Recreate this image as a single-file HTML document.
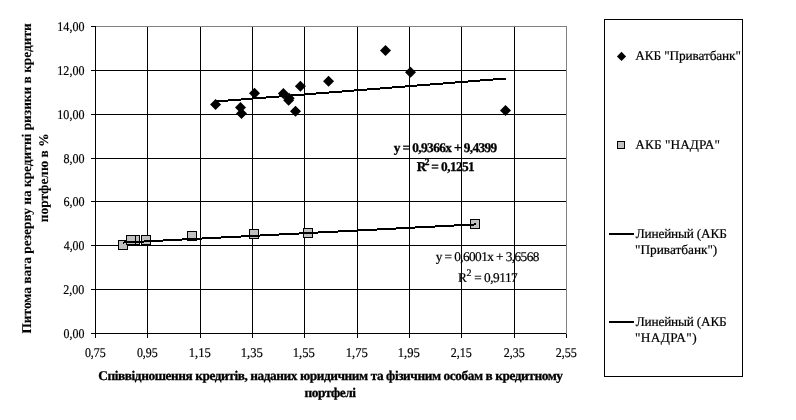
<!DOCTYPE html><html><head><meta charset="utf-8"><style>html,body{margin:0;padding:0;background:#fff;width:796px;height:420px;overflow:hidden}svg{display:block;will-change:transform}text{font-family:"Liberation Serif",serif;fill:#000;text-rendering:geometricPrecision;stroke:#000;stroke-width:0.2px}text[font-weight=bold]{stroke:#000;stroke-width:0.3px}</style></head><body>
<svg width="796" height="420" viewBox="0 0 796 420">
<rect width="796" height="420" fill="#fff"/>
<g stroke="#000" stroke-width="1" shape-rendering="crispEdges">
<line x1="95" y1="70.5" x2="566" y2="70.5"/>
<line x1="95" y1="114.5" x2="566" y2="114.5"/>
<line x1="95" y1="158.5" x2="566" y2="158.5"/>
<line x1="95" y1="201.5" x2="566" y2="201.5"/>
<line x1="95" y1="245.5" x2="566" y2="245.5"/>
<line x1="95" y1="289.5" x2="566" y2="289.5"/>
<line x1="147.5" y1="26" x2="147.5" y2="333"/>
<line x1="200.5" y1="26" x2="200.5" y2="333"/>
<line x1="252.5" y1="26" x2="252.5" y2="333"/>
<line x1="304.5" y1="26" x2="304.5" y2="333"/>
<line x1="357.5" y1="26" x2="357.5" y2="333"/>
<line x1="409.5" y1="26" x2="409.5" y2="333"/>
<line x1="461.5" y1="26" x2="461.5" y2="333"/>
<line x1="514.5" y1="26" x2="514.5" y2="333"/>
</g>
<g stroke="#808080" stroke-width="1" shape-rendering="crispEdges">
<line x1="95" y1="26.5" x2="567" y2="26.5"/>
<line x1="566.5" y1="26" x2="566.5" y2="334"/>
</g>
<g stroke="#000" stroke-width="1" shape-rendering="crispEdges">
<line x1="95.5" y1="26" x2="95.5" y2="334"/>
<line x1="95" y1="333.5" x2="566" y2="333.5"/>
<line x1="91" y1="26.5" x2="96" y2="26.5"/>
<line x1="91" y1="70.5" x2="96" y2="70.5"/>
<line x1="91" y1="114.5" x2="96" y2="114.5"/>
<line x1="91" y1="158.5" x2="96" y2="158.5"/>
<line x1="91" y1="201.5" x2="96" y2="201.5"/>
<line x1="91" y1="245.5" x2="96" y2="245.5"/>
<line x1="91" y1="289.5" x2="96" y2="289.5"/>
<line x1="91" y1="333.5" x2="96" y2="333.5"/>
<line x1="95.5" y1="334" x2="95.5" y2="338"/>
<line x1="147.5" y1="334" x2="147.5" y2="338"/>
<line x1="200.5" y1="334" x2="200.5" y2="338"/>
<line x1="252.5" y1="334" x2="252.5" y2="338"/>
<line x1="304.5" y1="334" x2="304.5" y2="338"/>
<line x1="357.5" y1="334" x2="357.5" y2="338"/>
<line x1="409.5" y1="334" x2="409.5" y2="338"/>
<line x1="461.5" y1="334" x2="461.5" y2="338"/>
<line x1="514.5" y1="334" x2="514.5" y2="338"/>
<line x1="566.5" y1="334" x2="566.5" y2="338"/>
</g>
<g fill="#000">
<path d="M215.55 98.95L221.05 104.45L215.55 109.95L210.05 104.45Z"/>
<path d="M240.5 102.00L246.00 107.5L240.5 113.00L235.00 107.5Z"/>
<path d="M241.5 107.90L247.00 113.4L241.5 118.90L236.00 113.4Z"/>
<path d="M254.5 87.80L260.00 93.3L254.5 98.80L249.00 93.3Z"/>
<path d="M283.4 87.90L288.90 93.4L283.4 98.90L277.90 93.4Z"/>
<path d="M289.2 92.70L294.70 98.2L289.2 103.70L283.70 98.2Z"/>
<path d="M288.6 94.80L294.10 100.3L288.6 105.80L283.10 100.3Z"/>
<path d="M295.5 105.80L301.00 111.3L295.5 116.80L290.00 111.3Z"/>
<path d="M300.4 80.85L305.90 86.35L300.4 91.85L294.90 86.35Z"/>
<path d="M328.55 75.85L334.05 81.35L328.55 86.85L323.05 81.35Z"/>
<path d="M385.5 44.95L391.00 50.45L385.5 55.95L380.00 50.45Z"/>
<path d="M410.5 66.75L416.00 72.25L410.5 77.75L405.00 72.25Z"/>
<path d="M505.5 104.90L511.00 110.4L505.5 115.90L500.00 110.4Z"/>
</g>
<g fill="#c0c0c0" stroke="#000" stroke-width="1" shape-rendering="crispEdges">
<rect x="118.5" y="240.5" width="9" height="9"/>
<rect x="130.5" y="235.5" width="9" height="9"/>
<rect x="126.5" y="235.5" width="9" height="9"/>
<rect x="141.5" y="235.5" width="9" height="9"/>
<rect x="187.5" y="231.5" width="9" height="9"/>
<rect x="249.5" y="229.5" width="9" height="9"/>
<rect x="303.5" y="228.5" width="9" height="9"/>
<rect x="470.5" y="219.5" width="9" height="9"/>
</g>
<path d="M216 100H228V102H216ZM228 99H241V101H228ZM241 98H253V100H241ZM253 97H266V99H253ZM266 96H279V98H266ZM279 95H291V97H279ZM291 94H304V96H291ZM304 93H316V95H304ZM316 92H329V94H316ZM329 91H342V93H329ZM342 90H354V92H342ZM354 89H367V91H354ZM367 88H380V90H367ZM380 87H392V89H380ZM392 86H405V88H392ZM405 85H417V87H405ZM417 84H430V86H417ZM430 83H443V85H430ZM443 82H455V84H443ZM455 81H468V83H455ZM468 80H480V82H468ZM480 79H493V81H480ZM493 78H506V80H493Z" fill="#000" shape-rendering="crispEdges"/>
<path d="M123 242H124V244H123ZM124 241H144V243H124ZM144 240H163V242H144ZM163 239H182V241H163ZM182 238H202V240H182ZM202 237H221V239H202ZM221 236H241V238H221ZM241 235H260V237H241ZM260 234H279V236H260ZM279 233H299V235H279ZM299 232H318V234H299ZM318 231H338V233H318ZM338 230H357V232H338ZM357 229H377V231H357ZM377 228H396V230H377ZM396 227H415V229H396ZM415 226H435V228H415ZM435 225H454V227H435ZM454 224H474V226H454ZM474 223H476V225H474Z" fill="#000" shape-rendering="crispEdges"/>
<text x="57.35" y="31" font-size="13.33" font-weight="normal" textLength="27.12" lengthAdjust="spacingAndGlyphs">14,00</text>
<text x="57.35" y="75" font-size="13.33" font-weight="normal" textLength="27.12" lengthAdjust="spacingAndGlyphs">12,00</text>
<text x="57.35" y="119" font-size="13.33" font-weight="normal" textLength="27.12" lengthAdjust="spacingAndGlyphs">10,00</text>
<text x="63.38" y="163" font-size="13.33" font-weight="normal" textLength="21.19" lengthAdjust="spacingAndGlyphs">8,00</text>
<text x="63.39" y="206" font-size="13.33" font-weight="normal" textLength="21.21" lengthAdjust="spacingAndGlyphs">6,00</text>
<text x="63.76" y="250" font-size="13.33" font-weight="normal" textLength="20.64" lengthAdjust="spacingAndGlyphs">4,00</text>
<text x="63.22" y="294" font-size="13.33" font-weight="normal" textLength="21.09" lengthAdjust="spacingAndGlyphs">2,00</text>
<text x="63.49" y="338" font-size="13.33" font-weight="normal" textLength="20.86" lengthAdjust="spacingAndGlyphs">0,00</text>
<text x="84.88" y="357" font-size="13.33" font-weight="normal" textLength="20.85" lengthAdjust="spacingAndGlyphs">0,75</text>
<text x="136.88" y="357" font-size="13.33" font-weight="normal" textLength="20.85" lengthAdjust="spacingAndGlyphs">0,95</text>
<text x="188.69" y="357" font-size="13.33" font-weight="normal" textLength="22.06" lengthAdjust="spacingAndGlyphs">1,15</text>
<text x="240.69" y="357" font-size="13.33" font-weight="normal" textLength="22.06" lengthAdjust="spacingAndGlyphs">1,35</text>
<text x="292.69" y="357" font-size="13.33" font-weight="normal" textLength="22.06" lengthAdjust="spacingAndGlyphs">1,55</text>
<text x="345.69" y="357" font-size="13.33" font-weight="normal" textLength="22.06" lengthAdjust="spacingAndGlyphs">1,75</text>
<text x="397.69" y="357" font-size="13.33" font-weight="normal" textLength="22.06" lengthAdjust="spacingAndGlyphs">1,95</text>
<text x="450.68" y="357" font-size="13.33" font-weight="normal" textLength="21.05" lengthAdjust="spacingAndGlyphs">2,15</text>
<text x="503.68" y="357" font-size="13.33" font-weight="normal" textLength="21.05" lengthAdjust="spacingAndGlyphs">2,35</text>
<text x="555.68" y="357" font-size="13.33" font-weight="normal" textLength="21.05" lengthAdjust="spacingAndGlyphs">2,55</text>
<text x="98.34" y="380" font-size="13.33" font-weight="bold" textLength="464.65" lengthAdjust="spacing">Співвідношення кредитів, наданих юридичним та фізичним особам в кредитному</text>
<text x="304.58" y="397" font-size="13.33" font-weight="bold" textLength="51.49" lengthAdjust="spacing">портфелі</text>
<text x="393.84" y="152" font-size="13.33" font-weight="bold" textLength="103.41" lengthAdjust="spacing">y = 0,9366x + 9,4399</text>
<text x="435.66" y="261" font-size="13.33" font-weight="normal" textLength="103.77" lengthAdjust="spacing">y = 0,6001x + 3,6568</text>
<text x="635.34" y="60" font-size="13.33" font-weight="normal" textLength="105.52" lengthAdjust="spacing">АКБ &quot;Приватбанк&quot;</text>
<text x="635.34" y="149" font-size="13.33" font-weight="normal" textLength="84.52" lengthAdjust="spacing">АКБ &quot;НАДРА&quot;</text>
<text x="635.77" y="238" font-size="13.33" font-weight="normal" textLength="91.11" lengthAdjust="spacing">Линейный (АКБ</text>
<text x="635.00" y="254" font-size="13.33" font-weight="normal" textLength="82.32" lengthAdjust="spacing">&quot;Приватбанк&quot;)</text>
<text x="635.77" y="326" font-size="13.33" font-weight="normal" textLength="91.00" lengthAdjust="spacing">Линейный (АКБ</text>
<text x="635.00" y="342" font-size="13.33" font-weight="normal" textLength="61.62" lengthAdjust="spacing">&quot;НАДРА&quot;)</text>
<text x="416.83" y="171" font-size="13.33" font-weight="bold">R</text>
<text x="424.74" y="165" font-size="9.5" font-weight="bold">2</text>
<text x="431.30" y="171" font-size="13.33" font-weight="bold" textLength="43.47" lengthAdjust="spacing">= 0,1251</text>
<text x="458.09" y="282" font-size="13.33" font-weight="normal">R</text>
<text x="466.41" y="276" font-size="10" font-weight="normal">2</text>
<text x="474.28" y="282" font-size="13.33" font-weight="normal" textLength="43.45" lengthAdjust="spacing">= 0,9117</text>
<text transform="translate(31,333.55) rotate(-90)" x="0" y="0" font-size="13.33" font-weight="bold" style="stroke-width:0.1px" textLength="310.31" lengthAdjust="spacing">Питома вага резерву на кредитні ризики в кредити</text>
<text transform="translate(48,222.29) rotate(-90)" x="0" y="0" font-size="13.33" font-weight="bold" style="stroke-width:0.1px" textLength="88.84" lengthAdjust="spacing">портфелю в %</text>
<rect x="604.5" y="19.5" width="138" height="357" fill="none" stroke="#000" stroke-width="1" shape-rendering="crispEdges"/>
<path d="M621.5 51.85L626.1 56.45L621.5 61.05L616.9 56.45Z" fill="#000"/>
<rect x="617.5" y="141.5" width="7" height="7" fill="#c0c0c0" stroke="#000" stroke-width="1" shape-rendering="crispEdges"/>
<rect x="609" y="233" width="25" height="2" fill="#000"/>
<rect x="609" y="321" width="25" height="2" fill="#000"/>
</svg></body></html>
